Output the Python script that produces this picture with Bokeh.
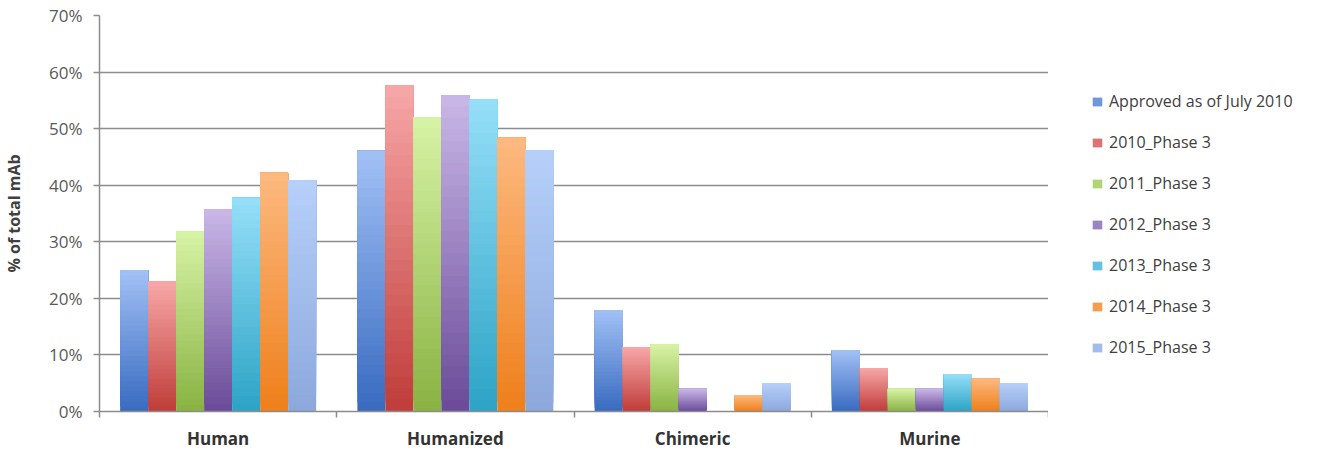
from bokeh.plotting import figure
from bokeh.layouts import row
from bokeh.models import (Range1d, FixedTicker, PrintfTickFormatter, Legend, LegendItem,
                          ColumnDataSource)
from bokeh.embed import file_html
from bokeh.resources import INLINE

# ---------------- data ----------------
categories = ["Human", "Humanized", "Chimeric", "Murine"]
series = ["Approved as of July 2010", "2010_Phase 3", "2011_Phase 3", "2012_Phase 3",
          "2013_Phase 3", "2014_Phase 3", "2015_Phase 3"]
approved_2010 = [25.0, 46.1, 17.9, 10.8]
phase3_2010 = [23.0, 57.7, 11.4, 7.7]
phase3_2011 = [31.8, 52.0, 11.9, 4.0]
phase3_2012 = [35.8, 55.9, 4.0, 4.0]
phase3_2013 = [37.8, 55.2, 0.0, 6.6]
phase3_2014 = [42.2, 48.4, 2.9, 5.8]
phase3_2015 = [40.9, 46.2, 5.0, 5.0]
values = [approved_2010, phase3_2010, phase3_2011, phase3_2012,
          phase3_2013, phase3_2014, phase3_2015]
y_ticks = [0, 10, 20, 30, 40, 50, 60, 70]

# ---------------- style ----------------
# (bottom colour, top colour) of each series' vertical gradient
grad = [("#3a6cc0", "#a0bff5"),
        ("#c03e3b", "#f6a6a6"),
        ("#8ab344", "#d6f2a4"),
        ("#6c4c9a", "#c8b6e6"),
        ("#2ea4c6", "#94def8"),
        ("#ef801c", "#fcb87e"),
        ("#8da8dc", "#b6cffa")]
N = 28
bar_w = 0.118
group_start = (1 - bar_w * len(series)) / 2


def mix(c1, c2, t):
    a = [int(c1[i:i + 2], 16) for i in (1, 3, 5)]
    b = [int(c2[i:i + 2], 16) for i in (1, 3, 5)]
    return "#%02x%02x%02x" % tuple(round(a[k] + (b[k] - a[k]) * t) for k in range(3))


FONT = "Open Sans"
p = figure(width=1048, height=456, x_range=Range1d(0, 4), y_range=Range1d(0, 70),
           output_backend="svg", toolbar_location=None,
           min_border_left=99, min_border_right=0, min_border_top=15, min_border_bottom=45)
p.outline_line_color = None
p.background_fill_color = "white"
p.border_fill_color = "white"

# separate panel that holds only the legend
lf = figure(width=275, height=456, x_range=Range1d(100, 101), y_range=Range1d(0, 70),
            output_backend="svg", toolbar_location=None,
            x_axis_location=None, y_axis_location=None,
            min_border_left=0, min_border_right=0, min_border_top=0, min_border_bottom=0)
lf.outline_line_color = None
lf.xgrid.visible = False
lf.ygrid.visible = False

items = []
for j, (name, vals) in enumerate(zip(series, values)):
    xs, bots, tops, cols = [], [], [], []
    for i, v in enumerate(vals):
        xc = i + group_start + bar_w * (j + 0.5)
        for k in range(N):
            xs.append(xc)
            bots.append(v * k / N)
            tops.append(v)
            cols.append(mix(grad[j][0], grad[j][1], k / (N - 1)))
    src = ColumnDataSource(dict(x=xs, bottom=bots, top=tops, color=cols))
    p.vbar(x="x", bottom="bottom", top="top", width=bar_w, fill_color="color",
           line_color=None, source=src)
    r2 = lf.vbar(x="x", bottom="bottom", top="top", width=bar_w, fill_color="color",
                 line_color=None, source=src, visible=False)
    items.append(LegendItem(label=name, renderers=[r2], index=N // 2))

# axes
p.xgrid.visible = False
p.ygrid.grid_line_color = "#8c8c8c"
p.ygrid.grid_line_width = 1.5
p.ygrid.ticker = FixedTicker(ticks=y_ticks)

p.yaxis.ticker = FixedTicker(ticks=y_ticks)
p.yaxis.formatter = PrintfTickFormatter(format="%d%%")
p.yaxis.axis_line_color = "#8c8c8c"
p.yaxis.axis_line_width = 1.5
p.yaxis.major_tick_line_color = "#8c8c8c"
p.yaxis.major_tick_line_width = 1.5
p.yaxis.major_tick_in = 0
p.yaxis.major_tick_out = 6
p.yaxis.minor_tick_line_color = None
p.yaxis.major_label_text_font = FONT
p.yaxis.major_label_text_font_size = "17px"
p.yaxis.major_label_text_color = "#595959"
p.yaxis.major_label_standoff = 11
p.yaxis.axis_label = "% of total mAb"
p.yaxis.axis_label_text_font = FONT
p.yaxis.axis_label_text_font_style = "bold"
p.yaxis.axis_label_text_font_size = "16px"
p.yaxis.axis_label_text_color = "#404040"
p.yaxis.axis_label_standoff = 21

p.xaxis.ticker = FixedTicker(ticks=[i + 0.5 for i in range(len(categories))],
                             minor_ticks=list(range(len(categories) + 1)))
p.xaxis.major_label_overrides = {i + 0.5: c for i, c in enumerate(categories)}
p.xaxis.axis_line_color = "#8c8c8c"
p.xaxis.axis_line_width = 1.5
p.xaxis.major_tick_line_color = None
p.xaxis.major_tick_out = 0
p.xaxis.major_tick_in = 0
p.xaxis.minor_tick_line_color = "#8c8c8c"
p.xaxis.minor_tick_line_width = 1.5
p.xaxis.minor_tick_in = 0
p.xaxis.minor_tick_out = 6
p.xaxis.major_label_text_font = FONT
p.xaxis.major_label_text_font_style = "bold"
p.xaxis.major_label_text_font_size = "17px"
p.xaxis.major_label_text_color = "#333333"
p.xaxis.major_label_standoff = 9

legend = Legend(items=items, location=(43, 53), orientation="vertical")
legend.border_line_color = None
legend.background_fill_alpha = 0
legend.inactive_fill_alpha = 0
legend.padding = 0
legend.margin = 0
legend.spacing = 19
legend.glyph_width = 12
legend.glyph_height = 11
legend.label_height = 21
legend.label_standoff = 6
legend.label_text_font = FONT
legend.label_text_font_size = "16px"
legend.label_text_color = "#404040"
lf.add_layout(legend, "center")

layout = row(p, lf, spacing=0)
open("out.html", "w").write(file_html(layout, INLINE))
